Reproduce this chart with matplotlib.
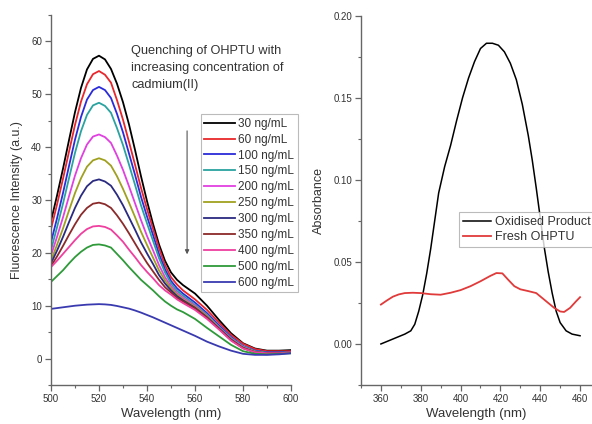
import numpy as np
import matplotlib
matplotlib.use('Agg')
import matplotlib.pyplot as plt
from matplotlib.ticker import MultipleLocator, FormatStrFormatter

plt.rcParams['font.family'] = ['Liberation Sans', 'DejaVu Sans']

# fluorescence spectra (left panel)
wl = [500, 502.5, 505, 507.5, 510, 512.5, 515, 517.5, 520, 522.5, 525, 527.5, 530, 532.5, 535, 537.5,
      540, 542.5, 545, 547.5, 550, 552.5, 555, 560, 565, 570, 575, 580, 585, 590, 595, 600]
conc_labels = ['30 ng/mL', '60 ng/mL', '100 ng/mL', '150 ng/mL', '200 ng/mL', '250 ng/mL',
               '300 ng/mL', '350 ng/mL', '400 ng/mL', '500 ng/mL', '600 ng/mL']
conc_colors = ['#000000', '#e8262b', '#2b2bd9', '#2aa3a0', '#e040e0', '#a0a020',
               '#2a2a80', '#8b2a2a', '#ef3f9f', '#2f9a3a', '#3a3ab0']
c30 = [26, 30.8, 35.9, 41.3, 46.6, 51.2, 54.7, 56.7, 57.3, 56.6, 54.8, 52.0, 48.5, 44.3, 39.5, 34.5,
       29.8, 25.5, 21.6, 18.5, 16.3, 14.9, 13.9, 12.3, 10, 7.3, 4.8, 2.9, 1.9, 1.5, 1.5, 1.6]
c60 = [24.5, 29.1, 34.0, 39.1, 44.2, 48.6, 51.9, 53.8, 54.4, 53.7, 52.2, 48.9, 45.2, 41.0, 36.7, 32.3,
       28.3, 24.6, 20.9, 17.7, 15.4, 14.0, 12.9, 11.2, 9.2, 6.8, 4.5, 2.8, 1.8, 1.4, 1.4, 1.4]
c100 = [22, 26.5, 31.3, 36.4, 41.4, 45.7, 49.0, 50.8, 51.4, 50.8, 49.3, 46.3, 42.8, 38.8, 34.8, 30.6,
        26.9, 23.4, 19.8, 16.9, 14.7, 13.3, 12.3, 10.6, 8.6, 6.3, 4.1, 2.4, 1.5, 1.2, 1.2, 1.3]
c150 = [20.5, 24.8, 29.3, 34.1, 38.9, 43.0, 46.1, 47.9, 48.4, 47.8, 46.5, 43.6, 40.4, 36.7, 32.9, 29.0,
        25.6, 22.3, 19.0, 16.3, 14.2, 12.8, 11.9, 10.2, 8.3, 6.0, 3.9, 2.3, 1.4, 1.1, 1.1, 1.2]
c200 = [19.5, 23.0, 26.7, 30.7, 34.6, 37.9, 40.5, 42.0, 42.4, 41.9, 40.8, 38.4, 35.7, 32.6, 29.4, 26.2,
        23.2, 20.5, 17.7, 15.4, 13.7, 12.4, 11.5, 10.0, 8.1, 5.9, 3.8, 2.2, 1.3, 1.0, 1.0, 1.2]
c250 = [18.5, 21.5, 24.6, 28.0, 31.3, 34.1, 36.3, 37.5, 37.9, 37.5, 36.5, 34.5, 32.1, 29.5, 26.8, 24.0,
        21.5, 19.1, 16.7, 14.8, 13.3, 12.1, 11.2, 9.8, 8.0, 5.8, 3.7, 2.1, 1.3, 1.0, 1.0, 1.2]
c300 = [18, 20.4, 23.0, 25.8, 28.5, 30.8, 32.6, 33.6, 33.9, 33.5, 32.7, 31.0, 29.0, 26.7, 24.4, 22.0,
        19.9, 17.9, 15.8, 14.2, 12.9, 11.8, 11.0, 9.6, 7.8, 5.7, 3.6, 2.0, 1.2, 1.0, 1.0, 1.2]
c350 = [17.5, 19.3, 21.3, 23.4, 25.4, 27.2, 28.5, 29.3, 29.5, 29.2, 28.5, 27.1, 25.5, 23.7, 21.8, 19.9,
        18.1, 16.5, 14.9, 13.5, 12.5, 11.5, 10.8, 9.5, 7.7, 5.6, 3.5, 2.0, 1.2, 1.0, 1.0, 1.2]
c400 = [17.3, 18.5, 19.8, 21.1, 22.4, 23.6, 24.5, 25.0, 25.1, 24.9, 24.4, 23.3, 22.1, 20.6, 19.2, 17.7,
        16.4, 15.2, 13.9, 12.9, 12.1, 11.2, 10.5, 9.2, 7.5, 5.5, 3.4, 1.9, 1.2, 1.0, 1.0, 1.2]
c500 = [14.5, 15.6, 16.7, 18.0, 19.2, 20.2, 21.0, 21.5, 21.6, 21.4, 21.0, 19.8, 18.6, 17.3, 16.1, 14.9,
        13.9, 12.9, 11.8, 10.8, 10.0, 9.3, 8.8, 7.5, 5.8, 4.2, 2.6, 1.4, 0.9, 0.8, 0.9, 1.0]
c600 = [9.4, 9.55, 9.7, 9.85, 10.0, 10.1, 10.2, 10.25, 10.3, 10.25, 10.15, 9.95, 9.7, 9.45, 9.1, 8.7,
        8.25, 7.8, 7.3, 6.8, 6.3, 5.8, 5.3, 4.3, 3.2, 2.3, 1.5, 0.9, 0.7, 0.7, 0.8, 1.0]
spectra = [c30, c60, c100, c150, c200, c250, c300, c350, c400, c500, c600]

# absorbance spectra (right panel)
wl_ox = [360, 364, 368, 372, 375, 377, 379, 381, 383, 385, 387, 389, 392, 395, 398, 401, 404, 407, 410,
         413, 416, 419, 422, 425, 428, 431, 434, 436, 438, 440, 442, 444, 446, 448, 450, 453, 456, 460]
abs_ox = [0.000, 0.002, 0.004, 0.006, 0.008, 0.012, 0.020, 0.030, 0.043, 0.058, 0.075, 0.092, 0.108,
          0.121, 0.136, 0.150, 0.162, 0.172, 0.180, 0.1832, 0.1832, 0.182, 0.178, 0.171, 0.161, 0.146,
          0.127, 0.112, 0.095, 0.077, 0.059, 0.044, 0.031, 0.020, 0.013, 0.008, 0.006, 0.005]
wl_fresh = [360, 363, 366, 369, 372, 376, 380, 385, 390, 395, 400, 405, 410, 415, 418, 421, 424, 427,
            430, 434, 438, 441, 444, 447, 450, 452, 455, 458, 460]
abs_fresh = [0.024, 0.0265, 0.0288, 0.0302, 0.031, 0.0312, 0.031, 0.0303, 0.0300, 0.0312, 0.0328,
             0.0352, 0.0382, 0.0415, 0.0432, 0.043, 0.039, 0.0352, 0.0333, 0.0322, 0.031, 0.028,
             0.025, 0.022, 0.0198, 0.0195, 0.022, 0.026, 0.0285]

txt = '#333333'
spine = '#666666'

fig = plt.figure(figsize=(5.92, 4.24), dpi=100)
ax1 = fig.add_axes([0.0861, 0.092, 0.4055, 0.8726])
ax2 = fig.add_axes([0.6098, 0.092, 0.3902, 0.871])

for ax in (ax1, ax2):
    for s in ('top', 'right'):
        ax.spines[s].set_visible(False)
    for s in ('left', 'bottom'):
        ax.spines[s].set_color(spine)
        ax.spines[s].set_linewidth(1.0)
    ax.tick_params(which='both', direction='out', colors=spine, labelcolor=txt, labelsize=7, pad=2.5)
    ax.tick_params(which='major', length=4, width=0.9)
    ax.tick_params(which='minor', length=2.5, width=0.8)

for vals, lab, col in zip(spectra, conc_labels, conc_colors):
    ax1.plot(wl, vals, color=col, lw=1.3, label=lab)

ax1.set_xlim(500, 600)
ax1.set_ylim(-5, 65)
ax1.xaxis.set_major_locator(MultipleLocator(20))
ax1.xaxis.set_minor_locator(MultipleLocator(10))
ax1.yaxis.set_major_locator(MultipleLocator(10))
ax1.yaxis.set_minor_locator(MultipleLocator(5))
ax1.set_xlabel('Wavelength (nm)', fontsize=9.5, color=txt, labelpad=3)
ax1.set_ylabel('Fluorescence Intensity (a.u.)', fontsize=9, color=txt, labelpad=6)

ax1.text(533.5, 59.4, 'Quenching of OHPTU with\nincreasing concentration of\ncadmium(II)',
         fontsize=9.2, color=txt, va='top', ha='left', linespacing=1.55)
ax1.annotate('', xy=(556.7, 19.2), xytext=(556.7, 43.6),
             arrowprops=dict(arrowstyle='-|>', color='#555555', lw=0.8, mutation_scale=6))

leg1 = ax1.legend(loc='upper left', bbox_to_anchor=(0.339, 0.7305), bbox_transform=fig.transFigure,
                  fontsize=8.5, frameon=True, fancybox=False, edgecolor='#aaaaaa',
                  handlelength=2.6, handletextpad=0.3, labelspacing=0.33, borderpad=0.3,
                  borderaxespad=0)
leg1.get_frame().set_linewidth(0.8)
for t in leg1.get_texts():
    t.set_color(txt)

ax2.plot(wl_ox, abs_ox, color='#000000', lw=1.1, label='Oxidised Product')
ax2.plot(wl_fresh, abs_fresh, color='#e03a3a', lw=1.3, label='Fresh OHPTU')
ax2.set_xlim(350, 466)
ax2.set_ylim(-0.025, 0.20)
ax2.xaxis.set_major_locator(MultipleLocator(20))
ax2.xaxis.set_minor_locator(MultipleLocator(10))
ax2.yaxis.set_major_locator(MultipleLocator(0.05))
ax2.yaxis.set_minor_locator(MultipleLocator(0.025))
ax2.yaxis.set_major_formatter(FormatStrFormatter('%.2f'))
ax2.set_xlabel('Wavelength (nm)', fontsize=9.5, color=txt, labelpad=3)
ax2.set_ylabel('Absorbance', fontsize=9, color=txt, labelpad=6)

leg2 = ax2.legend(loc='upper left', bbox_to_anchor=(0.775, 0.4995), bbox_transform=fig.transFigure,
                  fontsize=9, frameon=True, fancybox=False, edgecolor='#aaaaaa',
                  handlelength=2.3, handletextpad=0.3, labelspacing=0.25, borderpad=0.3,
                  borderaxespad=0)
leg2.get_frame().set_linewidth(0.8)
for t in leg2.get_texts():
    t.set_color(txt)

fig.savefig('out.png', dpi=100)
